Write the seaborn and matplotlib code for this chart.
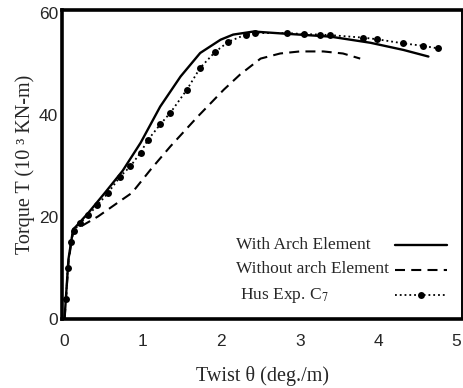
import matplotlib
matplotlib.use("Agg")
import matplotlib.pyplot as plt
from matplotlib.lines import Line2D
import seaborn as sns
import pandas as pd

# ---- data ----
arch_x = [0, 0.05, 0.11, 0.14, 0.31, 0.52, 0.74, 0.97, 1.22, 1.48, 1.73, 1.99, 2.15, 2.41, 2.79, 3.39, 3.9, 4.32, 4.64]
arch_y = [0, 11.7, 17.6, 18.0, 20.9, 24.8, 29.0, 34.5, 41.6, 47.5, 52.1, 54.7, 55.7, 56.3, 55.9, 55.3, 54.1, 52.7, 51.4]

noarch_x = [0, 0.05, 0.10, 0.15, 0.43, 0.69, 0.86, 1.10, 1.35, 1.69, 2.03, 2.24, 2.50, 2.75, 3.00, 3.30, 3.55, 3.77]
noarch_y = [0, 11.0, 16.5, 17.6, 20.1, 22.9, 24.7, 29.3, 33.8, 39.5, 44.9, 47.9, 51.0, 52.0, 52.4, 52.4, 52.0, 51.0]

exp_x = [0.02, 0.04, 0.08, 0.12, 0.20, 0.30, 0.42, 0.55, 0.71, 0.84, 0.97, 1.06, 1.22, 1.35, 1.56, 1.73, 1.92, 2.09,
         2.31, 2.43, 2.84, 3.05, 3.26, 3.39, 3.81, 3.98, 4.31, 4.57, 4.76]
exp_y = [4.0, 10.0, 15.0, 17.3, 18.8, 20.3, 22.3, 24.6, 27.9, 29.9, 32.6, 35.0, 38.1, 40.4, 44.9, 49.2, 52.3, 54.3,
         55.7, 56.0, 56.0, 55.8, 55.7, 55.6, 55.1, 54.8, 54.0, 53.5, 53.0]

labels = ["With Arch Element", "Without arch Element", " Hus Exp. C$_7$"]
x_ticks = [0, 1, 2, 3, 4, 5]
y_ticks = [0, 20, 40, 60]

sns.set_theme(style="white")
plt.rcParams["mathtext.fontset"] = "stix"

fig = plt.figure(figsize=(4.64, 3.88), dpi=100)
ax = fig.add_axes([0.134, 0.178, 0.862, 0.796])

df1 = pd.DataFrame({"x": arch_x, "y": arch_y})
df2 = pd.DataFrame({"x": noarch_x, "y": noarch_y})
df3 = pd.DataFrame({"x": exp_x, "y": exp_y})

sns.lineplot(data=df1, x="x", y="y", ax=ax, color="black", lw=1.7, sort=False,
             estimator=None)
sns.lineplot(data=df2, x="x", y="y", ax=ax, color="black", lw=1.5, sort=False,
             estimator=None)
ax.lines[-1].set_dashes((4.8, 3.0))
sns.lineplot(data=df3, x="x", y="y", ax=ax, color="black", lw=1.3, sort=False,
             estimator=None, marker="o", markersize=5,
             markeredgewidth=0, linestyle=":")
series_lines = list(ax.lines[:3])

ax.set_xlim(-0.03, 5.07)
ax.set_ylim(0, 60.5)
ax.set_xticks(x_ticks)
ax.set_yticks(y_ticks)
tick_font = {"family": "Liberation Sans", "size": 12.5}
ax.set_xticklabels([str(t) for t in x_ticks], fontdict=tick_font)
ax.set_yticklabels([str(t) for t in y_ticks], fontdict=tick_font)
ax.tick_params(axis="x", direction="in", length=3, width=1, color="black", pad=11)
ax.tick_params(axis="y", direction="in", length=3, width=1, color="black", pad=3)

ax.set_xlabel("Twist θ (deg./m)", family="Liberation Serif", fontsize=14.5, labelpad=12)
ax.set_ylabel("Torque T (10 ³ KN-m)", family="Liberation Serif", fontsize=14.5, labelpad=3)

for side in ["left", "bottom", "top"]:
    ax.spines[side].set_linewidth(2.6)
    ax.spines[side].set_color("black")
ax.spines["right"].set_linewidth(1.4)
ax.spines["right"].set_color("black")

leg_prop = {"family": "Liberation Serif", "size": 12.5}
# legend text column (left aligned)
blank = [Line2D([], [], color="none") for _ in labels]
leg_text = ax.legend(blank, labels, loc="lower left", bbox_to_anchor=(0.435, 0.045),
                     frameon=False, handlelength=0, handletextpad=0, borderpad=0,
                     borderaxespad=0, labelspacing=0.5, prop=leg_prop)
ax.add_artist(leg_text)
# legend sample column (right)
ax.legend(series_lines, ["", "", ""], loc="lower right", bbox_to_anchor=(0.9625, 0.045),
          frameon=False, handlelength=3.0, handletextpad=0, borderpad=0,
          borderaxespad=0, labelspacing=0.5, prop=leg_prop)

fig.savefig("out.png", dpi=100)
